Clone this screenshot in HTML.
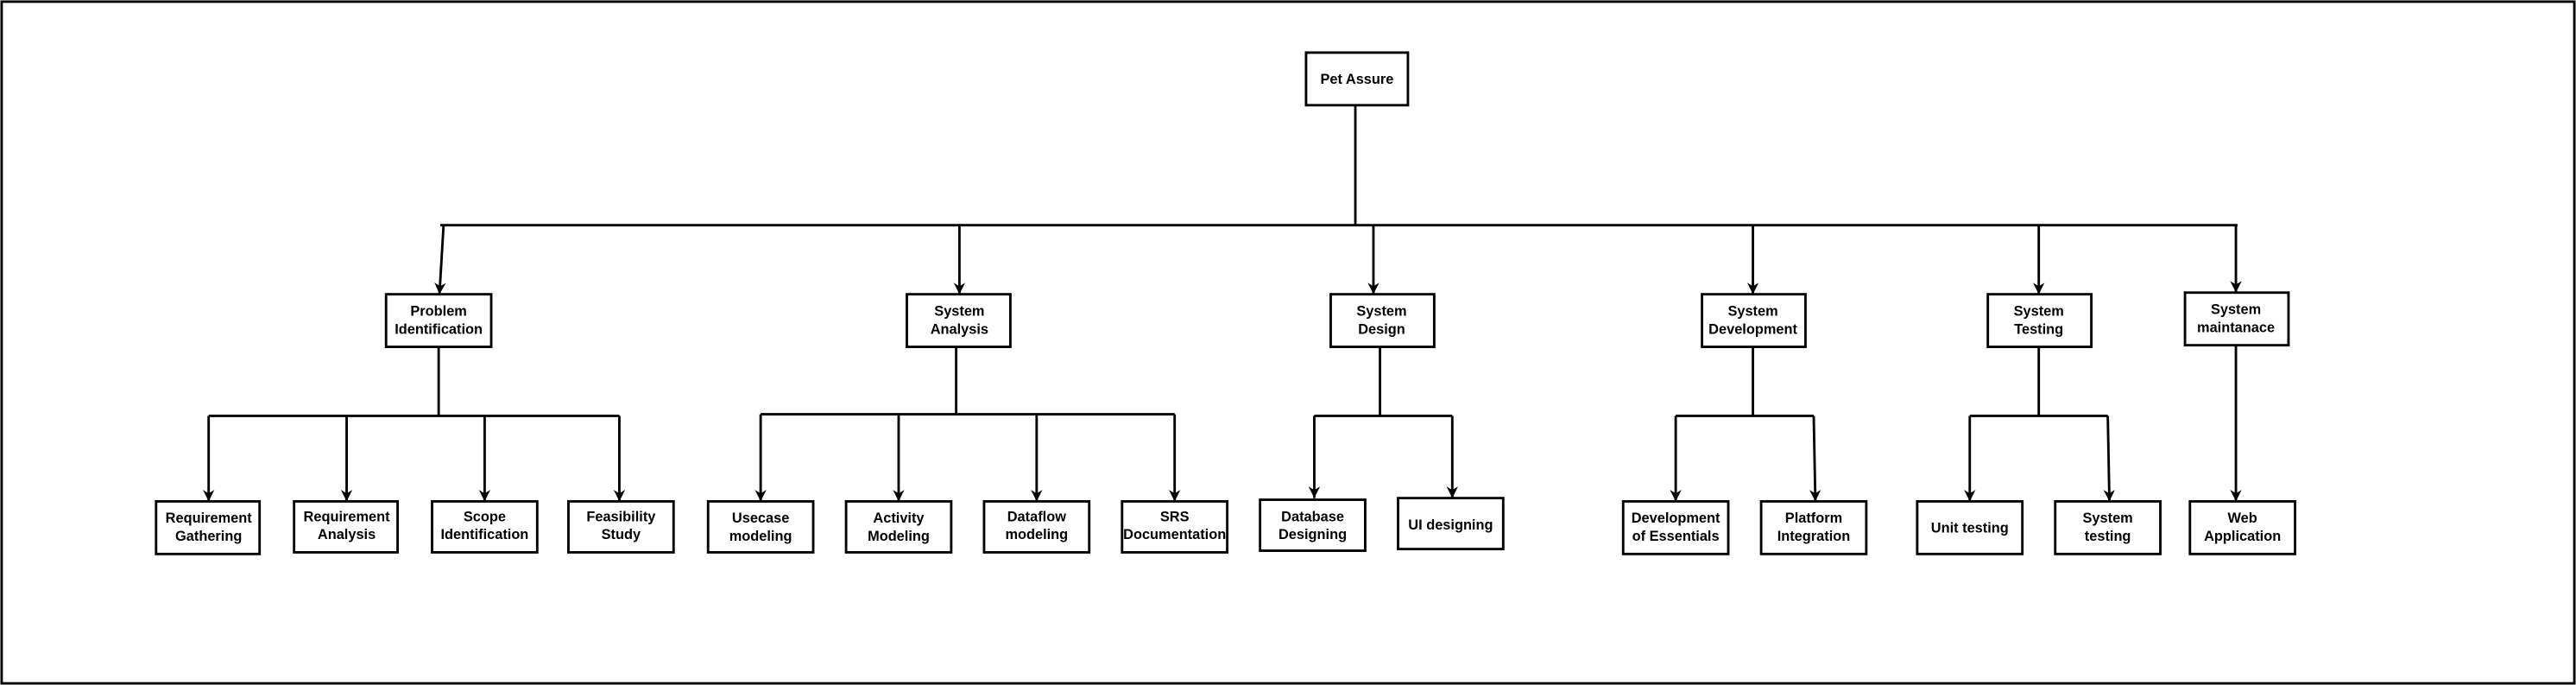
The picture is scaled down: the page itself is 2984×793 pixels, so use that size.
<!DOCTYPE html>
<html><head><meta charset="utf-8"><style>html,body{margin:0;padding:0;background:#fff}svg{display:block}</style></head>
<body>
<svg width="2984" height="793" viewBox="0 0 1568 416.7" xmlns="http://www.w3.org/2000/svg" font-family="'Liberation Sans', Arial, sans-serif" font-weight="bold" font-size="8.6" text-anchor="middle">
<defs><marker id="a" viewBox="0 0 10 10" refX="10" refY="5" markerWidth="8" markerHeight="7" orient="auto" markerUnits="userSpaceOnUse"><path d="M0,0 L10,5 L0,10 L3,5 z" fill="#000"/></marker></defs>
<rect x="1" y="1" width="1566" height="414.7" fill="#fff" stroke="#000" stroke-width="1.5"/>
<g stroke="#000" stroke-width="1.5" fill="none">
<path d="M825,64 V137 M268,137 H1362"/>
<path d="M270,137 L267.5,179" marker-end="url(#a)"/>
<path d="M584,137 V179" marker-end="url(#a)"/>
<path d="M836,137 V179" marker-end="url(#a)"/>
<path d="M1067,137 V179" marker-end="url(#a)"/>
<path d="M1241,137 V179" marker-end="url(#a)"/>
<path d="M1361,137 V178" marker-end="url(#a)"/>
<path d="M267,211 V253 M127,253 H377"/>
<path d="M127,253 V305" marker-end="url(#a)"/><path d="M211,253 V305" marker-end="url(#a)"/><path d="M295,253 V305" marker-end="url(#a)"/><path d="M377,253 V305" marker-end="url(#a)"/>
<path d="M582,211 V252 M463,252 H715"/>
<path d="M463,252 V305" marker-end="url(#a)"/><path d="M547,252 V305" marker-end="url(#a)"/><path d="M631,252 V305" marker-end="url(#a)"/><path d="M715,252 V305" marker-end="url(#a)"/>
<path d="M840,211 V253 M800,253 H884"/>
<path d="M800,253 V303" marker-end="url(#a)"/><path d="M884,253 V303" marker-end="url(#a)"/>
<path d="M1067,211 V253 M1020,253 H1104"/>
<path d="M1020,253 V305" marker-end="url(#a)"/><path d="M1104,253 L1105,305" marker-end="url(#a)"/>
<path d="M1241,211 V253 M1199,253 H1283"/>
<path d="M1199,253 V305" marker-end="url(#a)"/><path d="M1283,253 L1284,305" marker-end="url(#a)"/>
<path d="M1361,210 V305" marker-end="url(#a)"/>
</g>
<g fill="#fff" stroke="#000" stroke-width="1.5">
<rect x="795" y="32" width="62" height="32"/>
<rect x="235" y="179" width="64" height="32"/><rect x="552" y="179" width="63" height="32"/><rect x="810" y="179" width="63" height="32"/><rect x="1036" y="179" width="63" height="32"/><rect x="1210" y="179" width="63" height="32"/><rect x="1330" y="178" width="63" height="32"/>
<rect x="95" y="305" width="63" height="32"/><rect x="179" y="305" width="63" height="31"/><rect x="263" y="305" width="64" height="31"/><rect x="346" y="305" width="64" height="31"/>
<rect x="431" y="305" width="64" height="31"/><rect x="515" y="305" width="64" height="31"/><rect x="599" y="305" width="64" height="31"/><rect x="683" y="305" width="64" height="31"/>
<rect x="767" y="304" width="64" height="31"/><rect x="851" y="303" width="64" height="31"/>
<rect x="988" y="305" width="64" height="32"/><rect x="1072" y="305" width="64" height="32"/>
<rect x="1167" y="305" width="64" height="32"/><rect x="1251" y="305" width="64" height="32"/>
<rect x="1333" y="305" width="64" height="32"/>
</g>
<g fill="#000">
<text x="826" y="51">Pet  Assure</text>
<text x="267" y="192">Problem</text><text x="267" y="203">Identification</text>
<text x="584" y="192">System</text><text x="584" y="203">Analysis</text>
<text x="841" y="192">System</text><text x="841" y="203">Design</text>
<text x="1067" y="192">System</text><text x="1067" y="203">Development</text>
<text x="1241" y="192">System</text><text x="1241" y="203">Testing</text>
<text x="1361" y="191">System</text><text x="1361" y="202">maintanace</text>
<text x="127" y="318">Requirement</text><text x="127" y="329">Gathering</text>
<text x="211" y="317">Requirement</text><text x="211" y="328">Analysis</text>
<text x="295" y="317">Scope</text><text x="295" y="328">Identification</text>
<text x="378" y="317">Feasibility</text><text x="378" y="328">Study</text>
<text x="463" y="318">Usecase</text><text x="463" y="329">modeling</text>
<text x="547" y="318">Activity</text><text x="547" y="329">Modeling</text>
<text x="631" y="317">Dataflow</text><text x="631" y="328">modeling</text>
<text x="715" y="317">SRS</text><text x="715" y="328">Documentation</text>
<text x="799" y="317">Database</text><text x="799" y="328">Designing</text>
<text x="883" y="322">UI designing</text>
<text x="1020" y="318">Development</text><text x="1020" y="329">of Essentials</text>
<text x="1104" y="318">Platform</text><text x="1104" y="329">Integration</text>
<text x="1199" y="324">Unit testing</text>
<text x="1283" y="318">System</text><text x="1283" y="329">testing</text>
<text x="1365" y="318">Web</text><text x="1365" y="329">Application</text>
</g>
</svg>
</body></html>
